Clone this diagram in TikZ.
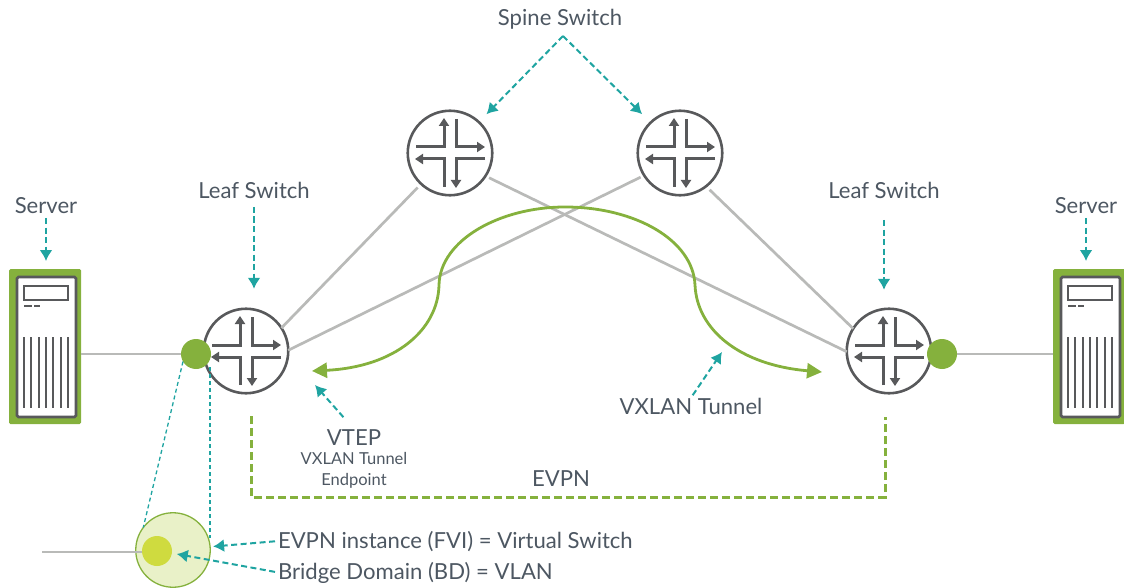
\documentclass[tikz,border=0pt]{standalone}
\usepackage{fontspec}
\setmainfont{Lato}
\usetikzlibrary{positioning,arrows.meta}
\definecolor{vxgreen}{HTML}{85B13D}
\definecolor{vxteal}{HTML}{1FA4A1}
\definecolor{vxgray}{HTML}{B9BAB8}
\definecolor{vxdark}{HTML}{58595B}
\definecolor{vxtext}{HTML}{4D5762}
\definecolor{vxpale}{HTML}{E9F1C8}
\definecolor{vxlime}{HTML}{CFDB3F}
\tikzset{
  routernode/.style={circle, draw=vxdark, fill=white, line width=2.6pt, minimum size=84.5pt, inner sep=0pt, outer sep=0pt},
  routerarrow/.style={draw=vxdark, line width=3pt, -{Stealth[inset=0pt,length=8pt,width=10pt]}},
  link/.style={draw=vxgray, line width=2.7pt},
  portdot/.style={circle, fill=vxgreen, minimum size=30pt, inner sep=0pt, outer sep=0pt},
  callout/.style={draw=vxteal, line width=2pt, dash pattern=on 6pt off 3.5pt, -{Latex[length=11pt,width=13pt]}},
  thinlink/.style={draw=vxteal, line width=1.3pt, dash pattern=on 4pt off 3pt},
  tunnel/.style={draw=vxgreen, line width=2.8pt, {Stealth[inset=0pt,length=15pt,width=15pt]}-{Stealth[inset=0pt,length=15pt,width=15pt]}},
  evpnline/.style={draw=vxgreen, line width=3pt, dash pattern=on 8pt off 4pt},
  biglabel/.style={inner sep=0pt, outer sep=0pt, text=vxtext, font=\fontsize{22.1}{26}\selectfont},
  smalllabel/.style={inner sep=0pt, outer sep=0pt, text=vxtext, font=\fontsize{16.5}{21}\selectfont}
}

\begin{document}
\begin{tikzpicture}[x=1pt, y=-1pt]
  \useasboundingbox (0,0) rectangle (1124,588);

  % Labels
  \node[biglabel, anchor=base] (labelSpine) at (560,26) {Spine Switch};
  \node[biglabel, anchor=base] (labelLeafL) at (254,199) {Leaf Switch};
  \node[biglabel, anchor=base] (labelLeafR) at (884,199) {Leaf Switch};
  \node[biglabel, anchor=base] (labelServerL) at (46,214) {Server};
  \node[biglabel, anchor=base] (labelServerR) at (1086,214) {Server};
  \node[biglabel, anchor=base] (labelVtep) at (354,445) {VTEP};
  \node[smalllabel, anchor=base] (labelVtepLong) at (354,464) {VXLAN Tunnel};
  \node[smalllabel, anchor=base] (labelVtepEnd) at (354,485) {Endpoint};
  \node[biglabel, anchor=base] (labelTunnel) at (691,414) {VXLAN Tunnel};
  \node[biglabel, anchor=base] (labelEvpn) at (561,486) {EVPN};
  \node[biglabel, anchor=base west] (labelEvi) at (278,548) {EVPN instance (FVI) = Virtual Switch};
  \node[biglabel, anchor=base west] (labelBd) at (278,579) {Bridge Domain (BD) = VLAN};

  % Draw the Servers
  \foreach \name/\sx in {serverL/0,serverR/1044} {
    \begin{scope}[shift={(\sx,0)}]
      \node[fill=vxgreen, rounded corners=1.5pt, minimum width=72pt, minimum height=155pt, inner sep=0pt, outer sep=0pt] (\name) at (45,346.5) {};
      \draw[vxdark, fill=white, line width=2.6pt, rounded corners=1.5pt] (17,277) rectangle (76,417);
      \draw[vxdark, line width=1.6pt] (24,286) rectangle (68,300);
      \draw[vxdark, line width=1.4pt] (24,306) -- (32,306) (34,306) -- (40,306);
      \foreach \bx in {24,31.3,38.7,46,53.3,60.7,68} {
        \draw[vxdark, line width=1.8pt] (\bx,337) -- (\bx,408);
      }
    \end{scope}
  }

  % Draw the Switches
  \foreach \name/\cx/\cy in {spineA/450/153,spineB/680/153,leafL/246/351,leafR/889/351} {
    \node[routernode] (\name) at (\cx,\cy) {};
    \begin{scope}[shift={(\cx,\cy)}]
      \draw[routerarrow] (-34,-6) -- (-6,-6) -- (-6,-35);
      \draw[routerarrow] (6,-34) -- (6,-6) -- (35,-6);
      \draw[routerarrow] (-6,34) -- (-6,6) -- (-35,6);
      \draw[routerarrow] (35,6) -- (6,6) -- (6,35);
    \end{scope}
  }

  % Draw the Fabric Links
  \draw[link, shorten <=5pt] (spineA.227) -- (leafL.33);
  \draw[link, shorten <=4pt] (spineA.-33) -- (leafR.181);
  \draw[link, shorten <=4pt] (spineB.212) -- (leafL.1);
  \draw[link, shorten <=5pt] (spineB.-52) -- (leafR.148);

  % Server Ports
  \node[portdot] (portL) at (196,354) {};
  \node[portdot] (portR) at (942,354) {};
  \draw[link] (serverL.east |- portL) -- (portL);
  \draw[link] (portR) -- (serverR.west |- portR);

  % The Bridge Domain Detail
  \coordinate (stubEnd) at (42,552);
  \node[circle, draw=vxgreen, fill=vxpale, line width=1.3pt, minimum size=74.5pt, inner sep=0pt, outer sep=0pt] (bdOuter) at (173,550) {};
  \draw[link] (stubEnd) -- (150,552);
  \node[circle, fill=vxlime, minimum size=30pt, inner sep=0pt, outer sep=0pt] (bdInner) at (157,551) {};
  \draw[thinlink] (portL.210) -- (bdOuter.143);
  \draw[thinlink, shorten <=8pt] (portL.-21) -- (portL.-21 |- bdOuter.19);

  % Draw the Tunnel
  \coordinate (tunnelL) at (312,371);
  \coordinate (tunnelR) at (822,372);
  \draw[tunnel] (tunnelL) .. controls (395,367) and (438,330) .. (439,285)
    .. controls (440,240) and (500,207) .. (565,207)
    .. controls (635,207) and (693,240) .. (695,285)
    .. controls (697,330) and (740,365) .. (tunnelR);

  % Draw the EVPN Overlay
  \coordinate (evpnL) at (251,416);
  \coordinate (evpnBL) at (251,497);
  \coordinate (evpnBR) at (885,497);
  \coordinate (evpnR) at (885,417);
  \draw[evpnline] (evpnL) -- (evpnBL) -- (evpnBR) -- (evpnR);

  % Callouts
  \coordinate (spineApex) at (563,36);
  \coordinate (vtepTip) at (315,385);
  \coordinate (tunnelTip) at (722,352);
  \draw[callout, shorten >=11pt] (spineApex) -- (spineA.47);
  \draw[callout, shorten >=12pt] (spineApex) -- (spineB.134);
  \draw[callout, shorten <=4pt, shorten >=8pt] (labelServerL.base) -- (labelServerL.base |- serverL.north);
  \draw[callout, shorten <=4pt, shorten >=8pt] (labelServerR.base) -- (labelServerR.base |- serverR.north);
  \draw[callout, shorten <=8pt, shorten >=20pt] (labelLeafL.base) -- (labelLeafL.base |- leafL.north);
  \draw[callout, shorten <=21pt, shorten >=19pt] (labelLeafR.base) -- (labelLeafR.base |- leafR.north);
  \draw[callout, shorten <=16pt] (labelVtep.north) -- (vtepTip);
  \draw[callout, shorten <=3pt] (labelTunnel.north) -- (tunnelTip);
  \draw[callout, shorten <=3pt, shorten >=3pt] (labelEvi.west) -- (bdOuter.5);
  \draw[callout, shorten <=3pt, shorten >=5pt] (labelBd.west) -- (bdInner.-8);
\end{tikzpicture}
\end{document}
